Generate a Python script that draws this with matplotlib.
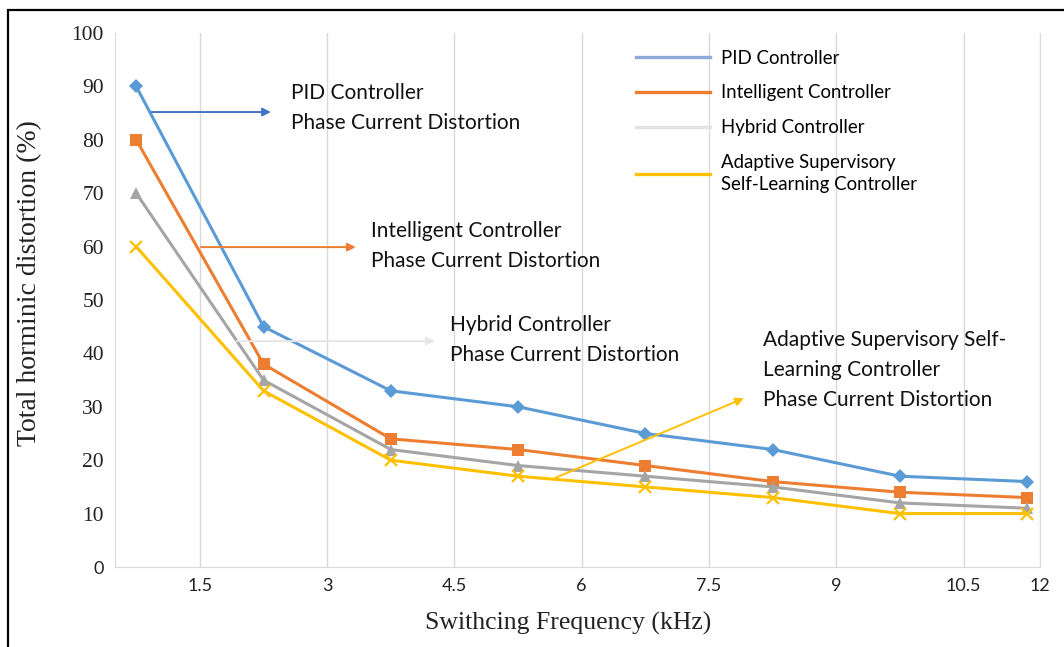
import numpy as np
import matplotlib.pyplot as plt
from matplotlib.lines import Line2D
from matplotlib.patches import Rectangle

# Frecuencias de conmutación (kHz) y THD (%) por controlador
freq = [0.75, 2.25, 3.75, 5.25, 6.75, 8.25, 9.75, 11.25]
pid = [90, 45, 33, 30, 25, 22, 17, 16]
intelligent = [80, 38, 24, 22, 19, 16, 14, 13]
hybrid = [70, 35, 22, 19, 17, 15, 12, 11]
adaptive = [60, 33, 20, 17, 15, 13, 10, 10]

xticks = [1.5, 3, 4.5, 6, 7.5, 9, 10.5, 11.4]
xtick_labels = ["1.5", "3", "4.5", "6", "7.5", "9", "10.5", "12"]
yticks = list(range(0, 101, 10))

names = ["PID Controller", "Intelligent Controller", "Hybrid Controller",
         "Adaptive Supervisory\nSelf-Learning Controller"]
colors = ["#5b9bd5", "#ed7d31", "#a5a5a5", "#ffc000"]
legend_colors = ["#8eaadb", "#ed7d31", "#e3e3e3", "#ffc000"]
markers = ["D", "s", "^", "x"]

sans = "Lato"
serif = "Liberation Serif"

fig = plt.figure(figsize=(10.64, 6.47), dpi=100)
ax = fig.add_axes([115/1064, 1 - 567/647, 925/1064, 534/647])

for ys, c, m in zip([pid, intelligent, hybrid, adaptive], colors, markers):
    ms = 7 if m == "D" else 8
    ax.plot(freq, ys, color=c, lw=2.2, marker=m, markersize=ms,
            markeredgewidth=1.6 if m == "x" else 0)

ax.set_xlim(0.5, 11.4)
ax.set_ylim(0, 100)
ax.set_xticks(xticks)
ax.set_xticklabels(xtick_labels, fontsize=13, family=sans, color="#222222")
ax.set_yticks(yticks)
ax.set_yticklabels([str(v) for v in yticks], fontsize=15.5, family=serif, color="#222222")
ax.get_yticklabels()[0].set_family(sans)
ax.get_yticklabels()[0].set_fontsize(13)
ax.tick_params(length=0, pad=8)
ax.grid(axis="x", color="#d9d9d9", lw=1)
for s in ["left", "bottom", "right"]:
    ax.spines[s].set_color("#d9d9d9")
ax.spines["top"].set_visible(False)

ax.set_xlabel("Swithcing Frequency (kHz)", family=serif, fontsize=18.5, color="#222222")
ax.xaxis.set_label_coords(0.49, -0.085)
ax.set_ylabel("Total horminic distortion (%)", family=serif, fontsize=20, color="#222222")
ax.yaxis.set_label_coords(-0.079, 0.532)

# Leyenda sin marcadores
handles = [Line2D([], [], color=c, lw=2.4) for c in legend_colors]
leg = ax.legend(handles, names, loc="upper left", bbox_to_anchor=(0.545, 1.0),
                frameon=False, prop={"family": sans, "size": 13.4},
                handlelength=4.0, handletextpad=0.6, labelspacing=0.95)
leg.get_texts()[-1].set_linespacing(1.35)

# Flechas con texto explicativo
notes = [
    ("PID Controller\nPhase Current Distortion", (0.90, 85.2), (2.37, 85.2), (2.57, 85.9), "#4472c4"),
    ("Intelligent Controller\nPhase Current Distortion", (1.48, 59.9), (3.37, 59.9), (3.52, 60.1), "#ed7d31"),
    ("Hybrid Controller\nPhase Current Distortion", (1.90, 42.3), (4.30, 42.3), (4.45, 42.5), "#e6e6e6"),
    ("Adaptive Supervisory Self-\nLearning Controller\nPhase Current Distortion", (5.66, 16.5), (7.94, 31.8), (8.14, 36.9), "#ffc000"),
]
for txt, start, end, pos, c in notes:
    ax.annotate("", xy=end, xytext=start,
                arrowprops=dict(arrowstyle="-|>", color=c, lw=1.4, mutation_scale=12))
    ax.text(pos[0], pos[1], txt, family=sans, fontsize=15, va="center", ha="left",
            linespacing=1.6, color="#111111")

# Marco exterior
fig.add_artist(Rectangle((8/1064, -0.1), 1.2, 1.1 - 9.5/647, transform=fig.transFigure,
                         fill=False, ec="black", lw=1.6))

fig.savefig("out.png", dpi=100)
